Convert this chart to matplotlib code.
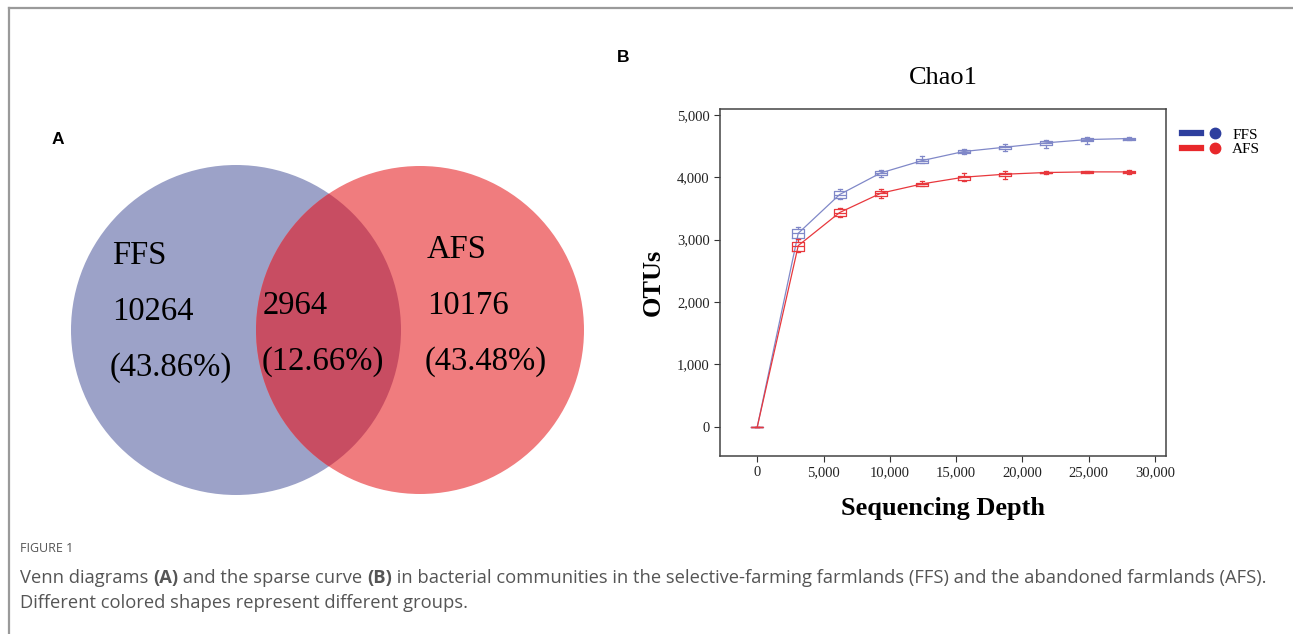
import matplotlib
matplotlib.use("Agg")
import matplotlib.pyplot as plt
from matplotlib.patches import Circle
from matplotlib.lines import Line2D
from matplotlib.legend_handler import HandlerTuple
from matplotlib.ticker import FuncFormatter

# ---- data ----
venn_names = ["FFS", "AFS"]
venn_only = [10264, 10176]
venn_shared = 2964

depths = [0, 3090, 6210, 9320, 12450, 15570, 18680, 21790, 24900, 28030]

# box stats: whislo, q1, med, q3, whishi
ffs_lo = [0, 3007, 3649, 4012, 4226, 4376, 4430, 4467, 4537, 4601]
ffs_q1 = [0, 3023, 3665, 4034, 4237, 4387, 4451, 4521, 4580, 4606]
ffs_med = [0, 3103, 3724, 4071, 4269, 4414, 4483, 4553, 4606, 4622]
ffs_q3 = [0, 3167, 3782, 4103, 4296, 4440, 4505, 4580, 4628, 4638]
ffs_hi = [0, 3210, 3809, 4125, 4344, 4457, 4537, 4601, 4644, 4644]

afs_lo = [0, 2803, 3360, 3675, 3857, 3938, 3970, 4061, 4066, 4055]
afs_q1 = [0, 2825, 3381, 3708, 3868, 3959, 4018, 4066, 4071, 4066]
afs_med = [0, 2905, 3435, 3745, 3895, 4002, 4050, 4077, 4087, 4087]
afs_q3 = [0, 2969, 3488, 3777, 3916, 4028, 4077, 4093, 4103, 4109]
afs_hi = [0, 3007, 3515, 3809, 3943, 4077, 4109, 4103, 4109, 4120]

W, H = 1293, 634
fig = plt.figure(figsize=(W / 100, H / 100), dpi=100)

serif = ["Liberation Serif", "DejaVu Serif"]

# ---- panel frame lines ----
frame = fig.add_axes([0, 0, 1, 1])
frame.set_xlim(0, W)
frame.set_ylim(H, 0)
frame.axis("off")
frame.plot([9, W], [8, 8], color="#9a9a9a", lw=1.6)
frame.plot([9, 9], [8, H], color="#9a9a9a", lw=1.6)

# ---- A: Venn ----
total = venn_only[0] + venn_only[1] + venn_shared
pct = [v / total * 100 for v in venn_only]
pct_shared = venn_shared / total * 100

c_left = Circle((236, 330), 165, facecolor="#9ca2c8", edgecolor="none")
c_right = Circle((420, 330), 164, facecolor="#f07c7e", edgecolor="none")
frame.add_patch(c_left)
frame.add_patch(c_right)
c_mid = Circle((420, 330), 164, facecolor="#c84d62", edgecolor="none")
frame.add_patch(c_mid)
c_mid.set_clip_path(c_left)

vs = 23.5
frame.text(112, 256, venn_names[0], fontsize=vs, family=serif, va="center")
frame.text(112, 312, str(venn_only[0]), fontsize=vs, family=serif, va="center")
frame.text(110, 368, "(%.2f%%)" % pct[0], fontsize=vs, family=serif, va="center")
frame.text(263, 306, str(venn_shared), fontsize=vs, family=serif, va="center")
frame.text(262, 362, "(%.2f%%)" % pct_shared, fontsize=vs, family=serif, va="center")
frame.text(427, 250, venn_names[1], fontsize=vs, family=serif, va="center")
frame.text(427, 306, str(venn_only[1]), fontsize=vs, family=serif, va="center")
frame.text(425, 362, "(%.2f%%)" % pct[1], fontsize=vs, family=serif, va="center")

frame.text(52, 140, "A", fontsize=12.5, weight="bold", family="Liberation Sans", va="center")
frame.text(617, 58, "B", fontsize=12.5, weight="bold", family="Liberation Sans", va="center")

# ---- B: rarefaction curve ----
ax = fig.add_axes([720 / W, 1 - 455.7 / H, 446 / W, 346.4 / H])
blue_line = "#8088c8"
red_line = "#e8383d"


def stats(lo, q1, med, q3, hi):
    return [dict(whislo=a, q1=b, med=c, q3=d, whishi=e)
            for a, b, c, d, e in zip(lo, q1, med, q3, hi)]


for col, s, med in [(blue_line, stats(ffs_lo, ffs_q1, ffs_med, ffs_q3, ffs_hi), ffs_med),
                    (red_line, stats(afs_lo, afs_q1, afs_med, afs_q3, afs_hi), afs_med)]:
    ax.plot(depths, med, color=col, lw=0.9)
    ax.bxp(s, positions=depths, widths=900, showfliers=False, manage_ticks=False,
           boxprops=dict(color=col, lw=0.9), whiskerprops=dict(color=col, lw=0.9),
           capprops=dict(color=col, lw=0.9), medianprops=dict(color=col, lw=0.9),
           capwidths=300)

ax.set_xlim(-2814, 30830)
ax.set_ylim(-465, 5091)
ax.set_xticks(range(0, 30001, 5000))
ax.set_yticks(range(0, 5001, 1000))
fmt = FuncFormatter(lambda v, p: "{:,}".format(int(v)))
ax.xaxis.set_major_formatter(fmt)
ax.yaxis.set_major_formatter(fmt)
ax.tick_params(length=4, width=0.8, labelsize=10.5, color="#333333", labelcolor="#222222")
for lab in ax.get_xticklabels() + ax.get_yticklabels():
    lab.set_family(serif)
for sp in ax.spines.values():
    sp.set_color("#444444")
    sp.set_linewidth(1.1)

ax.set_title("Chao1", fontsize=19, family=serif, pad=18)
ax.set_xlabel("Sequencing Depth", fontsize=19, family=serif, weight="bold", labelpad=13)
ax.set_ylabel("OTUs", fontsize=19, family=serif, weight="bold", labelpad=8.5)

handles = [
    (Line2D([], [], color="#2e3f9e", lw=4.5), Line2D([], [], color="#2e3f9e", marker="o", ms=7.5, ls="none")),
    (Line2D([], [], color="#e8282b", lw=4.5), Line2D([], [], color="#e8282b", marker="o", ms=7.5, ls="none")),
]
leg = ax.legend(handles, ["FFS", "AFS"], handler_map={tuple: HandlerTuple(ndivide=None, pad=0.3)},
                loc="upper left", bbox_to_anchor=(1.013, 0.977), frameon=False,
                handlelength=2.7, handletextpad=0.55, labelspacing=0.05,
                prop=dict(family=serif, size=11), borderaxespad=0.3)

# ---- caption ----
cap_color = "#555555"
fig.text(20 / W, 1 - 548 / H, "FIGURE 1", fontsize=9, family="Open Sans", color=cap_color, va="center")

renderer = fig.canvas.get_renderer()


def rich_line(x, y, parts):
    for txt, bold in parts:
        t = fig.text(x, y, txt, fontsize=13.25, family="Open Sans", color=cap_color, va="center",
                     weight="bold" if bold else "normal")
        x += t.get_window_extent(renderer).width / W


rich_line(20 / W, 1 - 578 / H, [("Venn diagrams ", False), ("(A)", True),
                                (" and the sparse curve ", False), ("(B)", True),
                                (" in bacterial communities in the selective-farming farmlands (FFS) and the abandoned farmlands (AFS).", False)])
rich_line(20 / W, 1 - 603 / H, [("Different colored shapes represent different groups.", False)])

fig.savefig("out.png", dpi=100)
